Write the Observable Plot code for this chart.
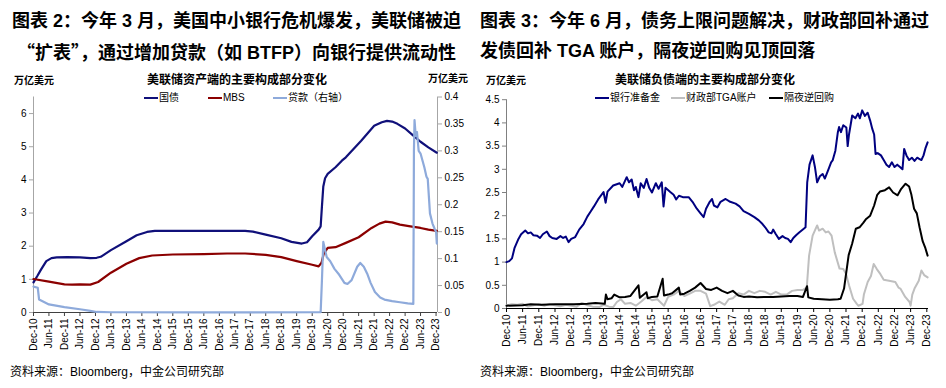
<!DOCTYPE html>
<html><head><meta charset="utf-8">
<script src="https://cdn.jsdelivr.net/npm/d3@7"></script>
<script src="https://cdn.jsdelivr.net/npm/@observablehq/plot@0.6"></script>
<style>
body{margin:0;background:#fff;}
#wrap{position:relative;width:946px;height:388px;overflow:hidden;font-family:"Liberation Sans","Noto Sans CJK SC",sans-serif;color:#000;background:#fff;}
.panel{position:absolute;top:0;width:473px;height:388px;}
.title{position:absolute;top:6px;left:0;width:473px;font-size:18px;font-weight:bold;line-height:30px;white-space:nowrap;}
.cjk{font-family:"Noto Sans CJK SC",sans-serif;}
.abs{position:absolute;white-space:nowrap;}
.ctitle{font-size:12px;line-height:14px;font-weight:bold;transform:translateX(-50%);}
.unit{font-size:10px;line-height:12px;font-weight:bold;}
.leg{font-size:10px;line-height:12px;display:flex;align-items:center;}
.leg i{display:inline-block;width:14px;height:2.2px;margin-right:1px;}
.src{font-size:12px;line-height:14px;}
.chart{position:absolute;left:0;top:66px;}
</style></head>
<body>
<div id="wrap">
  <div class="panel" id="p1" style="left:0">
    <div class="title" style="text-align:center">图表 2：今年 3 月，美国中小银行危机爆发，美联储被迫<br><span class="cjk">“扩表”</span>，通过增加贷款（如 BTFP）向银行提供流动性</div>
    <div class="abs ctitle" style="left:237px;top:73px">美联储资产端的主要构成部分变化</div>
    <div class="abs unit" style="left:14px;top:75px">万亿美元</div>
    <div class="abs unit" style="left:428px;top:73px">万亿美元</div>
    <div class="chart" id="c1"></div>
    <div class="abs src" style="left:10px;top:365px">资料来源：Bloomberg，中金公司研究部</div>
  </div>
  <div class="panel" id="p2" style="left:473px">
    <div class="title" style="left:7px">图表 3：今年 6 月，债务上限问题解决，财政部回补通过<br>发债回补 TGA 账户，隔夜逆回购见顶回落</div>
    <div class="abs ctitle" style="left:232px;top:73px">美联储负债端的主要构成部分变化</div>
    <div class="abs unit" style="left:13px;top:75px">万亿美元</div>
    <div class="chart" id="c2"></div>
    <div class="abs src" style="left:7px;top:365px">资料来源：Bloomberg，中金公司研究部</div>
  </div>
</div>
<script>
// ---------- data ----------
const xTickLabels = ["Dec-10","Jun-11","Dec-11","Jun-12","Dec-12","Jun-13","Dec-13","Jun-14","Dec-14","Jun-15","Dec-15","Jun-16","Dec-16","Jun-17","Dec-17","Jun-18","Dec-18","Jun-19","Dec-19","Jun-20","Dec-20","Jun-21","Dec-21","Jun-22","Dec-22","Jun-23","Dec-23"];
const leftYTicks = [0,1,2,3,4,5,6];
const rightYTicks = [0,0.05,0.1,0.15,0.2,0.25,0.3,0.35,0.4];
const liabYTicks = [0,0.5,1,1.5,2,2.5,3,3.5,4,4.5];

const assetNames = ["国债","MBS","贷款（右轴）"];
const liabNames = ["银行准备金","财政部TGA账户","隔夜逆回购"];

// 国债 (trillion USD)
const treasuries = [
["2010-12-01",0.91],["2011-01-15",1.1],["2011-03-01",1.3],["2011-05-01",1.55],["2011-07-01",1.64],["2011-09-01",1.66],
["2012-01-01",1.67],["2012-06-01",1.66],["2012-10-01",1.64],["2012-12-15",1.65],["2013-02-01",1.68],["2013-06-01",1.88],
["2013-12-01",2.15],["2014-04-01",2.33],["2014-08-01",2.43],["2014-11-01",2.46],["2015-06-01",2.46],["2016-06-01",2.46],
["2017-06-01",2.46],["2017-10-01",2.46],["2018-01-01",2.44],["2018-06-01",2.35],["2018-12-01",2.24],["2019-04-01",2.13],
["2019-08-01",2.08],["2019-10-01",2.12],["2019-12-01",2.3],["2020-02-15",2.5],["2020-03-10",2.6],["2020-03-25",3.2],
["2020-04-10",3.8],["2020-05-01",4.05],["2020-06-01",4.18],["2020-09-01",4.38],["2020-11-15",4.58],["2021-01-01",4.68],
["2021-07-01",5.18],["2021-12-01",5.63],["2022-03-01",5.74],["2022-05-01",5.78],["2022-07-01",5.76],["2022-09-01",5.69],
["2022-12-01",5.55],["2023-03-01",5.35],["2023-06-01",5.15],["2023-09-01",4.98],["2023-12-10",4.82]
];
// MBS
const mbs = [
["2010-12-01",1.01],["2011-06-01",0.93],["2011-12-01",0.85],["2012-03-01",0.84],["2012-06-01",0.85],["2012-10-01",0.84],
["2013-01-01",0.92],["2013-06-01",1.2],["2013-12-01",1.47],["2014-05-01",1.64],["2014-10-01",1.72],["2015-06-01",1.75],
["2016-06-01",1.76],["2017-03-01",1.78],["2017-10-01",1.78],["2018-06-01",1.74],["2018-12-01",1.67],["2019-06-01",1.55],
["2019-12-01",1.44],["2020-02-15",1.39],["2020-03-20",1.5],["2020-04-15",1.77],["2020-06-01",1.95],["2020-09-01",1.97],
["2021-01-01",2.1],["2021-06-01",2.27],["2021-11-01",2.55],["2022-02-01",2.68],["2022-04-15",2.74],["2022-07-01",2.72],
["2022-10-01",2.65],["2023-02-01",2.6],["2023-06-01",2.55],["2023-09-01",2.5],["2023-12-10",2.46]
];
// 贷款 (right axis)
const loans = [
["2010-12-01",0.048],["2011-01-20",0.046],["2011-02-05",0.024],["2011-06-01",0.015],["2011-12-01",0.01],["2012-06-01",0.006],
["2012-10-01",0.003],["2012-12-15",0.001],["2013-06-01",0.0005],["2016-06-01",0.0003],["2020-03-10",0.0005],["2020-03-25",0.06],
["2020-04-10",0.131],["2020-04-25",0.12],["2020-05-20",0.103],["2020-07-01",0.095],["2020-08-20",0.081],["2020-10-15",0.07],
["2020-12-15",0.055],["2021-01-20",0.053],["2021-03-10",0.06],["2021-05-15",0.085],["2021-06-20",0.092],["2021-08-01",0.085],
["2021-09-10",0.072],["2021-10-20",0.055],["2021-12-10",0.038],["2022-02-10",0.028],["2022-04-01",0.024],["2022-07-01",0.021],
["2022-10-01",0.019],["2023-01-01",0.017],["2023-03-08",0.016],["2023-03-15",0.3],["2023-03-22",0.357],["2023-04-05",0.328],
["2023-04-20",0.335],["2023-05-10",0.30],["2023-06-01",0.295],["2023-07-15",0.27],["2023-08-10",0.252],["2023-08-25",0.248],
["2023-09-20",0.184],["2023-10-20",0.165],["2023-11-15",0.155],["2023-12-01",0.15],["2023-12-10",0.128]
];
// 银行准备金
const reserves = [
["2010-12-01",1.0],["2011-01-01",1.02],["2011-02-01",1.08],["2011-03-01",1.3],["2011-04-15",1.5],["2011-05-15",1.6],["2011-07-01",1.68],
["2011-08-01",1.62],["2011-09-01",1.64],["2011-10-01",1.58],["2011-11-10",1.57],["2011-12-15",1.52],["2012-01-15",1.6],["2012-03-01",1.66],
["2012-04-01",1.56],["2012-05-01",1.52],["2012-06-20",1.5],["2012-08-01",1.56],["2012-09-01",1.52],["2012-10-01",1.55],["2012-11-01",1.43],
["2012-12-01",1.5],["2013-01-15",1.54],["2013-03-01",1.7],["2013-04-20",1.82],["2013-06-01",1.98],["2013-07-05",2.08],["2013-08-15",2.2],
["2013-10-01",2.35],["2013-12-01",2.51],["2013-12-25",2.28],["2014-01-15",2.52],["2014-03-20",2.65],["2014-06-01",2.7],["2014-07-01",2.62],
["2014-08-20",2.83],["2014-09-15",2.72],["2014-10-15",2.78],["2014-11-10",2.55],["2014-12-01",2.62],["2014-12-31",2.4],["2015-01-25",2.7],
["2015-03-01",2.6],["2015-04-01",2.79],["2015-05-01",2.6],["2015-06-01",2.5],["2015-07-15",2.7],["2015-08-15",2.58],["2015-09-20",2.72],
["2015-10-10",2.2],["2015-11-01",2.6],["2015-12-25",2.51],["2016-02-01",2.45],["2016-03-01",2.35],["2016-04-01",2.43],["2016-05-15",2.4],
["2016-07-20",2.4],["2016-09-01",2.3],["2016-10-20",2.15],["2016-12-01",2.05],["2017-01-05",1.97],["2017-02-01",2.15],["2017-03-15",2.3],
["2017-04-10",2.36],["2017-05-01",2.22],["2017-06-10",2.18],["2017-07-15",2.3],["2017-09-10",2.36],["2017-11-01",2.3],["2018-01-01",2.26],
["2018-02-15",2.2],["2018-04-01",2.1],["2018-06-01",2.04],["2018-08-01",1.97],["2018-09-20",1.9],["2018-11-01",1.82],["2018-12-01",1.75],
["2019-01-10",1.64],["2019-02-10",1.62],["2019-03-01",1.7],["2019-04-01",1.6],["2019-05-05",1.5],["2019-06-15",1.56],["2019-07-15",1.52],
["2019-08-15",1.5],["2019-09-15",1.43],["2019-10-15",1.52],["2019-11-15",1.58],["2019-12-20",1.64],["2020-02-10",1.72],["2020-03-01",1.75],
["2020-03-20",2.72],["2020-04-15",3.1],["2020-05-20",3.3],["2020-06-15",3.05],["2020-07-10",2.72],["2020-08-10",2.85],["2020-09-10",2.9],
["2020-10-05",2.8],["2020-11-15",3.0],["2020-12-15",3.15],["2021-01-01",3.19],["2021-02-01",3.4],["2021-03-01",3.8],["2021-03-15",3.91],
["2021-04-05",3.8],["2021-05-01",3.95],["2021-06-05",3.9],["2021-06-20",3.5],["2021-07-05",3.75],["2021-08-10",4.16],["2021-09-15",4.1],
["2021-10-15",4.2],["2021-11-05",4.1],["2021-12-01",4.27],["2022-01-01",4.15],["2022-02-01",4.22],["2022-03-01",4.05],["2022-03-25",3.87],
["2022-04-15",3.75],["2022-05-01",3.33],["2022-05-25",3.35],["2022-07-01",3.3],["2022-08-01",3.2],["2022-09-01",3.1],["2022-10-01",3.05],
["2022-11-01",3.15],["2022-12-01",3.05],["2023-01-01",3.1],["2023-02-01",3.05],["2023-03-01",3.0],["2023-03-20",3.44],["2023-04-15",3.3],
["2023-05-15",3.2],["2023-06-15",3.25],["2023-07-15",3.18],["2023-08-15",3.25],["2023-09-01",3.23],["2023-10-01",3.2],["2023-10-25",3.3],
["2023-11-15",3.45],["2023-12-10",3.58]
];
// 财政部TGA账户
const tga = [
["2010-12-01",0.07],["2011-02-01",0.09],["2011-04-01",0.08],["2011-06-01",0.1],["2011-08-01",0.04],["2011-10-01",0.07],["2011-12-01",0.09],
["2012-02-01",0.06],["2012-04-01",0.1],["2012-06-01",0.07],["2012-08-01",0.05],["2012-10-01",0.08],["2012-12-01",0.06],["2013-02-01",0.04],
["2013-04-01",0.12],["2013-06-01",0.07],["2013-08-01",0.04],["2013-10-15",0.03],["2013-12-01",0.08],["2014-02-01",0.04],["2014-03-20",0.03],
["2014-05-01",0.14],["2014-06-15",0.2],["2014-08-01",0.1],["2014-10-01",0.12],["2014-12-01",0.06],["2015-02-01",0.15],["2015-04-01",0.25],
["2015-06-01",0.18],["2015-08-01",0.2],["2015-10-15",0.06],["2015-12-01",0.25],["2016-02-01",0.3],["2016-04-01",0.38],["2016-06-01",0.27],
["2016-08-01",0.32],["2016-10-01",0.38],["2016-12-01",0.38],["2017-02-01",0.32],["2017-03-20",0.05],["2017-05-01",0.08],["2017-07-01",0.15],
["2017-09-01",0.08],["2017-10-15",0.2],["2017-12-01",0.22],["2018-02-01",0.33],["2018-04-01",0.3],["2018-06-01",0.38],["2018-08-01",0.33],
["2018-10-01",0.38],["2018-12-01",0.36],["2019-02-01",0.3],["2019-04-01",0.36],["2019-06-01",0.3],["2019-08-01",0.3],["2019-10-01",0.38],
["2019-12-01",0.4],["2020-02-01",0.4],["2020-03-15",0.45],["2020-04-10",1.14],["2020-05-20",1.57],["2020-07-10",1.79],["2020-08-01",1.68],
["2020-09-10",1.72],["2020-10-15",1.64],["2020-11-15",1.66],["2020-12-20",1.57],["2021-01-25",1.21],["2021-03-20",0.86],["2021-05-01",0.85],
["2021-06-01",0.75],["2021-07-05",0.5],["2021-08-20",0.21],["2021-10-01",0.1],["2021-10-20",0.06],["2021-12-05",0.1],["2021-12-20",0.3],
["2022-02-01",0.57],["2022-03-10",0.7],["2022-04-10",0.96],["2022-05-15",0.85],["2022-06-25",0.74],["2022-08-01",0.62],["2022-10-01",0.6],
["2022-12-10",0.57],["2023-01-15",0.45],["2023-02-05",0.43],["2023-04-01",0.25],["2023-05-20",0.14],["2023-06-01",0.06],["2023-06-20",0.3],
["2023-07-15",0.43],["2023-09-01",0.6],["2023-10-01",0.82],["2023-11-01",0.72],["2023-12-10",0.67]
];
// 隔夜逆回购
const rrp = [
["2010-12-01",0.06],["2011-06-01",0.07],["2011-09-01",0.09],["2012-01-01",0.08],["2012-06-01",0.09],["2013-01-01",0.09],["2013-06-01",0.1],
["2013-09-01",0.12],["2013-12-15",0.1],["2013-12-28",0.3],["2014-01-15",0.2],["2014-03-01",0.22],["2014-04-01",0.3],["2014-06-01",0.24],
["2014-08-01",0.25],["2014-10-01",0.27],["2014-12-31",0.5],["2015-01-15",0.23],["2015-03-31",0.35],["2015-04-15",0.22],["2015-06-01",0.25],
["2015-08-01",0.26],["2015-09-30",0.64],["2015-10-15",0.28],["2015-12-01",0.3],["2016-01-15",0.33],["2016-03-31",0.45],["2016-04-15",0.3],
["2016-06-01",0.32],["2016-08-01",0.38],["2016-10-01",0.45],["2016-12-01",0.55],["2017-02-01",0.42],["2017-04-01",0.4],["2017-06-01",0.45],
["2017-08-01",0.38],["2017-10-01",0.33],["2017-12-01",0.38],["2018-02-01",0.28],["2018-04-01",0.25],["2018-06-01",0.26],["2018-09-01",0.24],
["2018-12-01",0.25],["2019-03-01",0.25],["2019-06-01",0.26],["2019-09-01",0.27],["2019-12-01",0.27],["2020-02-01",0.25],["2020-03-18",0.48],
["2020-04-01",0.24],["2020-06-01",0.21],["2020-09-01",0.2],["2020-12-01",0.19],["2021-03-01",0.2],["2021-04-01",0.21],["2021-05-10",0.43],
["2021-07-01",1.15],["2021-08-10",1.4],["2021-09-20",1.72],["2021-11-01",1.75],["2021-12-15",1.85],["2022-01-15",1.93],["2022-03-01",2.0],
["2022-04-15",2.22],["2022-05-20",2.45],["2022-06-20",2.52],["2022-08-15",2.55],["2022-10-01",2.61],["2022-11-15",2.5],["2023-01-05",2.44],
["2023-02-15",2.58],["2023-04-05",2.69],["2023-05-15",2.63],["2023-06-10",2.45],["2023-07-10",2.15],["2023-08-10",2.05],["2023-09-10",1.75],
["2023-10-15",1.45],["2023-11-15",1.3],["2023-12-10",1.14]
];

// ---------- helpers ----------
const FONT = '"Liberation Sans","Noto Sans CJK SC",sans-serif';
const toRows = arr => arr.map(([d, v]) => ({date: new Date(d + "T00:00:00Z"), value: v}));
const parseTick = d3.utcParse("%b-%y");
const xTicks = xTickLabels.map(parseTick);
const fmtTick = d3.utcFormat("%b-%y");
const xStart = xTicks[0];
const num = v => String(+v.toFixed(2));

function legend(panel, items, top) {
  items.forEach(([name, color, left]) => {
    const el = document.createElement("div");
    el.className = "abs leg";
    el.style.left = left + "px";
    el.style.top = top + "px";
    el.innerHTML = `<i style="background:${color}"></i><span>${name}</span>`;
    panel.appendChild(el);
  });
}

// ---------- left chart ----------
const k = 6.5 / 0.4;
const assetColors = ["#10107a", "#8b0000", "#8eaadb"];
const xEndL = new Date(Date.UTC(2023, 11, 18));
const c1 = Plot.plot({
  width: 473, height: 294,
  marginTop: 30.5, marginBottom: 48, marginLeft: 33, marginRight: 36,
  x: {type: "utc", domain: [xStart, xEndL]},
  y: {domain: [0, 6.5]},
  style: {fontFamily: FONT, fontSize: "10px", color: "#000", background: "transparent", overflow: "visible"},
  marks: [
    Plot.ruleX([xStart], {y1: 0, y2: 6.5, stroke: "#a6a6a6"}),
    Plot.ruleX([xEndL], {y1: 0, y2: 6.5, stroke: "#a6a6a6"}),
    Plot.axisY({anchor: "left", ticks: leftYTicks, tickFormat: num, tickSize: 4, tickPadding: 3, stroke: "#a6a6a6", label: null}),
    Plot.axisY({anchor: "right", ticks: rightYTicks.map(v => v * k), tickFormat: v => num(v / k), tickSize: 4, tickPadding: 3, stroke: "#a6a6a6", label: null}),
    Plot.ruleY([0], {stroke: "#404040"}),
    Plot.axisX({ticks: xTicks, tickFormat: fmtTick, tickRotate: -90, tickSize: 4, tickPadding: 2, stroke: "#404040", label: null}),
    Plot.line(toRows(treasuries), {x: "date", y: "value", stroke: assetColors[0], strokeWidth: 2.2}),
    Plot.line(toRows(mbs), {x: "date", y: "value", stroke: assetColors[1], strokeWidth: 2.2}),
    Plot.line(toRows(loans), {x: "date", y: d => d.value * k, stroke: assetColors[2], strokeWidth: 2.2})
  ]
});
document.getElementById("c1").appendChild(c1);
const p1 = document.getElementById("p1");
legend(p1, [[assetNames[0], assetColors[0], 144], [assetNames[1], assetColors[1], 208], [assetNames[2], assetColors[2], 273]], 92);

// ---------- right chart ----------
const liabColors = ["#000080", "#bfbfbf", "#000000"];
const xEndR = new Date(Date.UTC(2023, 11, 20));
const c2 = Plot.plot({
  width: 473, height: 294,
  marginTop: 33.2, marginBottom: 52, marginLeft: 33, marginRight: 18,
  x: {type: "utc", domain: [xStart, xEndR]},
  y: {domain: [0, 4.5]},
  style: {fontFamily: FONT, fontSize: "10px", color: "#000", background: "transparent", overflow: "visible"},
  marks: [
    Plot.ruleX([xStart], {y1: 0, y2: 4.5, stroke: "#808080"}),
    Plot.axisY({anchor: "left", ticks: liabYTicks, tickFormat: num, tickSize: 4, tickPadding: 3, stroke: "#808080", label: null}),
    Plot.ruleY([0], {stroke: "#000"}),
    Plot.axisX({ticks: xTicks, tickFormat: fmtTick, tickRotate: -90, tickSize: 4, tickPadding: 2, stroke: "#000", label: null}),
    Plot.line(toRows(reserves), {x: "date", y: "value", stroke: liabColors[0], strokeWidth: 2}),
    Plot.line(toRows(tga), {x: "date", y: "value", stroke: liabColors[1], strokeWidth: 2}),
    Plot.line(toRows(rrp), {x: "date", y: "value", stroke: liabColors[2], strokeWidth: 2})
  ]
});
document.getElementById("c2").appendChild(c2);
const p2 = document.getElementById("p2");
legend(p2, [[liabNames[0], liabColors[0], 122], [liabNames[1], liabColors[1], 198], [liabNames[2], liabColors[2], 296]], 92);
</script>
</body></html>
